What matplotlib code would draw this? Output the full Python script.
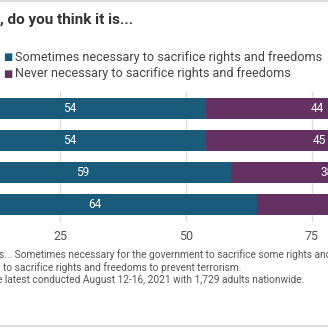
import matplotlib.pyplot as plt

plt.rcParams['font.family'] = ['Roboto', 'DejaVu Sans']

# data
rows = [0, 1, 2, 3]
sometimes = [54, 54, 59, 64]
never = [44, 45, 38, 35]
series_names = ["Sometimes necessary to sacrifice rights and freedoms",
                "Never necessary to sacrifice rights and freedoms"]
ticks = [25, 50, 75]

blue = "#1a5b7b"
purple = "#633262"

fig = plt.figure(figsize=(3.28, 3.28), dpi=100)
W = H = 328.0

# axes placed so value 0 sits off the left edge (cropped view)
ax = fig.add_axes([0, 1 - 222 / H, 1, 130 / H])
ax.barh(rows, sometimes, height=0.65, color=blue, zorder=2)
ax.barh(rows, never, left=sometimes, height=0.65, color=purple, zorder=2)
for r, s, n in zip(rows, sometimes, never):
    ax.text(s / 2, r, str(s), ha="center", va="center", color="white", fontsize=8.5, zorder=3)
    ax.text(s + n / 2, r, str(n), ha="center", va="center", color="white", fontsize=8.5, zorder=3)

ax.set_xlim(66 / 5.04, (W + 66) / 5.04)
ax.set_ylim(3.55, -0.52)
ax.set_xticks(ticks)
ax.set_yticks([])
ax.grid(axis="x", color="#dddddd", linewidth=1, zorder=0)
ax.tick_params(axis="x", length=0, labelsize=9, labelcolor="#555555", pad=6)
for s in ax.spines.values():
    s.set_visible(False)

# title and legend
fig.text(0, 1 - 20 / H, ", do you think it is...", fontsize=11, fontweight="bold",
         color="#333333", va="center")
for i, (name, c) in enumerate(zip(series_names, [blue, purple])):
    y = 1 - (57 + 17 * i) / H
    fig.text(3 / W, y, "\u25a0", fontsize=7, color=c, va="center")
    fig.text(15 / W, y, name, fontsize=9.1, color="#444444", va="center")

# footnote
notes = ["s... Sometimes necessary for the government to sacrifice some rights and freedoms",
         "to sacrifice rights and freedoms to prevent terrorism.",
         "e latest conducted August 12-16, 2021 with 1,729 adults nationwide."]
for i, t in enumerate(notes):
    fig.text([-1, 3, -3][i] / W, 1 - (255 + 12.5 * i) / H, t, fontsize=7.3, color="#555555", va="center")

# border lines
fig.add_artist(plt.Line2D([0, 1], [1 - 1 / H, 1 - 1 / H], color="#dddddd", linewidth=1.5))
fig.add_artist(plt.Line2D([0, 1], [1 - 326 / H, 1 - 326 / H], color="#dddddd", linewidth=1.5))

fig.savefig("out.png", dpi=100)
